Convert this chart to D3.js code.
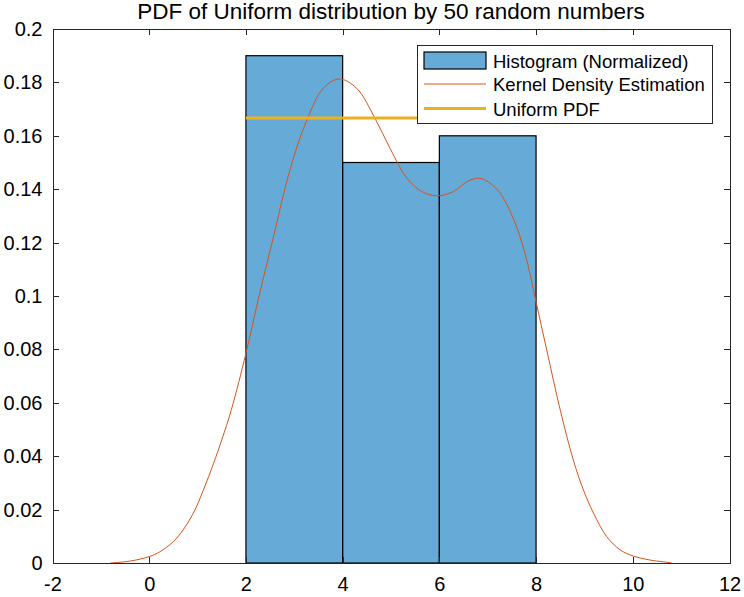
<!DOCTYPE html>
<html>
<head>
<meta charset="utf-8">
<script src="https://cdn.jsdelivr.net/npm/d3@7"></script>
<style>
    body { margin: 0; background: #fff; }
    svg text { font-family: "Liberation Sans", Arial, Helvetica, sans-serif; fill: #000; }
</style>
</head>
<body>
<svg id="chart" width="744" height="597"></svg>
<script>
// histogram bins (normalized as pdf)
const binEdges = [2, 4, 6, 8];
const binHeights = [0.19, 0.15, 0.16];

// kernel density estimate
const kdeX = [-0.8, -0.4, 0, 0.22, 0.5, 0.7, 0.91, 1.12, 1.33, 1.5, 1.7, 2.0, 2.26, 2.57, 2.91,
    3.26, 3.6, 3.93, 4.29, 4.67, 4.98, 5.33, 5.64, 5.95, 6.29, 6.57, 6.84, 7.2, 7.53, 7.77,
    8.0, 8.22, 8.5, 8.77, 8.98, 9.19, 9.46, 9.74, 10.01, 10.36, 10.8];
const kdeY = [0, 0.0007, 0.0024, 0.0042, 0.008, 0.0124, 0.0186, 0.0273, 0.0373, 0.0461, 0.0575,
    0.0785, 0.0991, 0.1222, 0.1472, 0.1659, 0.1778, 0.1813, 0.1778, 0.1665, 0.1553, 0.1441,
    0.1391, 0.1375, 0.1391, 0.1428, 0.1441, 0.1398, 0.129, 0.116, 0.0978, 0.0798, 0.0573,
    0.0386, 0.0273, 0.0186, 0.0099, 0.0049, 0.0026, 0.0011, 0.0001];

// uniform pdf on [2, 8]
const uniformX = [2, 8];
const uniformY = [1 / 6, 1 / 6];

const xTicks = [-2, 0, 2, 4, 6, 8, 10, 12];
const yTicks = [0, 0.02, 0.04, 0.06, 0.08, 0.1, 0.12, 0.14, 0.16, 0.18, 0.2];

const legendLabels = ["Histogram (Normalized)", "Kernel Density Estimation", "Uniform PDF"];

const blue = "#0072BD", orange = "#D95319", yellow = "#EDB120", axisColor = "#262626";

function drawChart() {
    const svg = d3.select("#chart");
    const left = 52.5, right = 729.5, top = 29, bottom = 563;

    const x = d3.scaleLinear().domain([-2, 12]).range([left, right]);
    const y = d3.scaleLinear().domain([0, 0.2]).range([bottom, top]);

    // bars
    const bins = binHeights.map((h, i) => ({x0: binEdges[i], x1: binEdges[i + 1], h: h}));
    svg.append("g").selectAll("rect")
        .data(bins)
        .join("rect")
        .attr("x", d => x(d.x0))
        .attr("y", d => y(d.h))
        .attr("width", d => x(d.x1) - x(d.x0))
        .attr("height", d => y(0) - y(d.h))
        .attr("fill", blue)
        .attr("fill-opacity", 0.6)
        .attr("stroke", "#000")
        .attr("stroke-width", 1.2);

    // kde curve
    const kde = kdeX.map((v, i) => [v, kdeY[i]]);
    const line = d3.line().x(d => x(d[0])).y(d => y(d[1])).curve(d3.curveCatmullRom.alpha(0.5));
    svg.append("path")
        .attr("d", line(kde))
        .attr("fill", "none")
        .attr("stroke", orange)
        .attr("stroke-width", 1);

    // uniform line
    const uni = uniformX.map((v, i) => [v, uniformY[i]]);
    svg.append("path")
        .attr("d", d3.line().x(d => x(d[0])).y(d => y(d[1]))(uni))
        .attr("fill", "none")
        .attr("stroke", yellow)
        .attr("stroke-width", 3);

    // axes, ticks point inward like matlab
    const fmtX = d => String(d);
    const fmtY = d => d3.format("~g")(d);

    const gx = svg.append("g").attr("transform", `translate(0,${bottom})`)
        .call(d3.axisBottom(x).tickValues(xTicks).tickFormat(fmtX).tickSizeInner(-6).tickSizeOuter(0).tickPadding(14));
    const gy = svg.append("g").attr("transform", `translate(${left},0)`)
        .call(d3.axisLeft(y).tickValues(yTicks).tickFormat(fmtY).tickSizeInner(-6).tickSizeOuter(0).tickPadding(10));
    const gt = svg.append("g").attr("transform", `translate(0,${top})`)
        .call(d3.axisTop(x).tickValues(xTicks).tickFormat("").tickSizeInner(-6).tickSizeOuter(0));
    const gr = svg.append("g").attr("transform", `translate(${right},0)`)
        .call(d3.axisRight(y).tickValues(yTicks).tickFormat("").tickSizeInner(-6).tickSizeOuter(0));

    [gx, gy, gt, gr].forEach(g => {
        g.selectAll("path, line").attr("stroke", axisColor).attr("shape-rendering", "crispEdges");
        g.selectAll("text").attr("font-size", 20).attr("fill", axisColor)
            .attr("font-family", "'Liberation Sans', Arial, sans-serif");
    });

    // title
    svg.append("text")
        .attr("x", (left + right) / 2)
        .attr("y", 19)
        .attr("text-anchor", "middle")
        .attr("font-size", 22.5)
        .text("PDF of Uniform distribution by 50 random numbers");

    // legend
    const legend = svg.append("g");
    legend.append("rect")
        .attr("x", 417).attr("y", 45)
        .attr("width", 295).attr("height", 78)
        .attr("fill", "#fff")
        .attr("stroke", axisColor)
        .attr("shape-rendering", "crispEdges");

    const rowY = [60.5, 84, 108.5];
    legend.append("rect")
        .attr("x", 424).attr("y", rowY[0] - 8.5)
        .attr("width", 62).attr("height", 17)
        .attr("fill", blue).attr("fill-opacity", 0.6)
        .attr("stroke", "#000").attr("stroke-width", 1.2);
    legend.append("line")
        .attr("x1", 424).attr("x2", 486)
        .attr("y1", rowY[1]).attr("y2", rowY[1])
        .attr("stroke", orange).attr("stroke-width", 1);
    legend.append("line")
        .attr("x1", 424).attr("x2", 486)
        .attr("y1", rowY[2]).attr("y2", rowY[2])
        .attr("stroke", yellow).attr("stroke-width", 3);

    legend.selectAll("text.lbl")
        .data(legendLabels)
        .join("text")
        .attr("class", "lbl")
        .attr("x", 493)
        .attr("y", (d, i) => rowY[i] + 7)
        .attr("font-size", 18.5)
        .text(d => d);
}

drawChart();
</script>
</body>
</html>
